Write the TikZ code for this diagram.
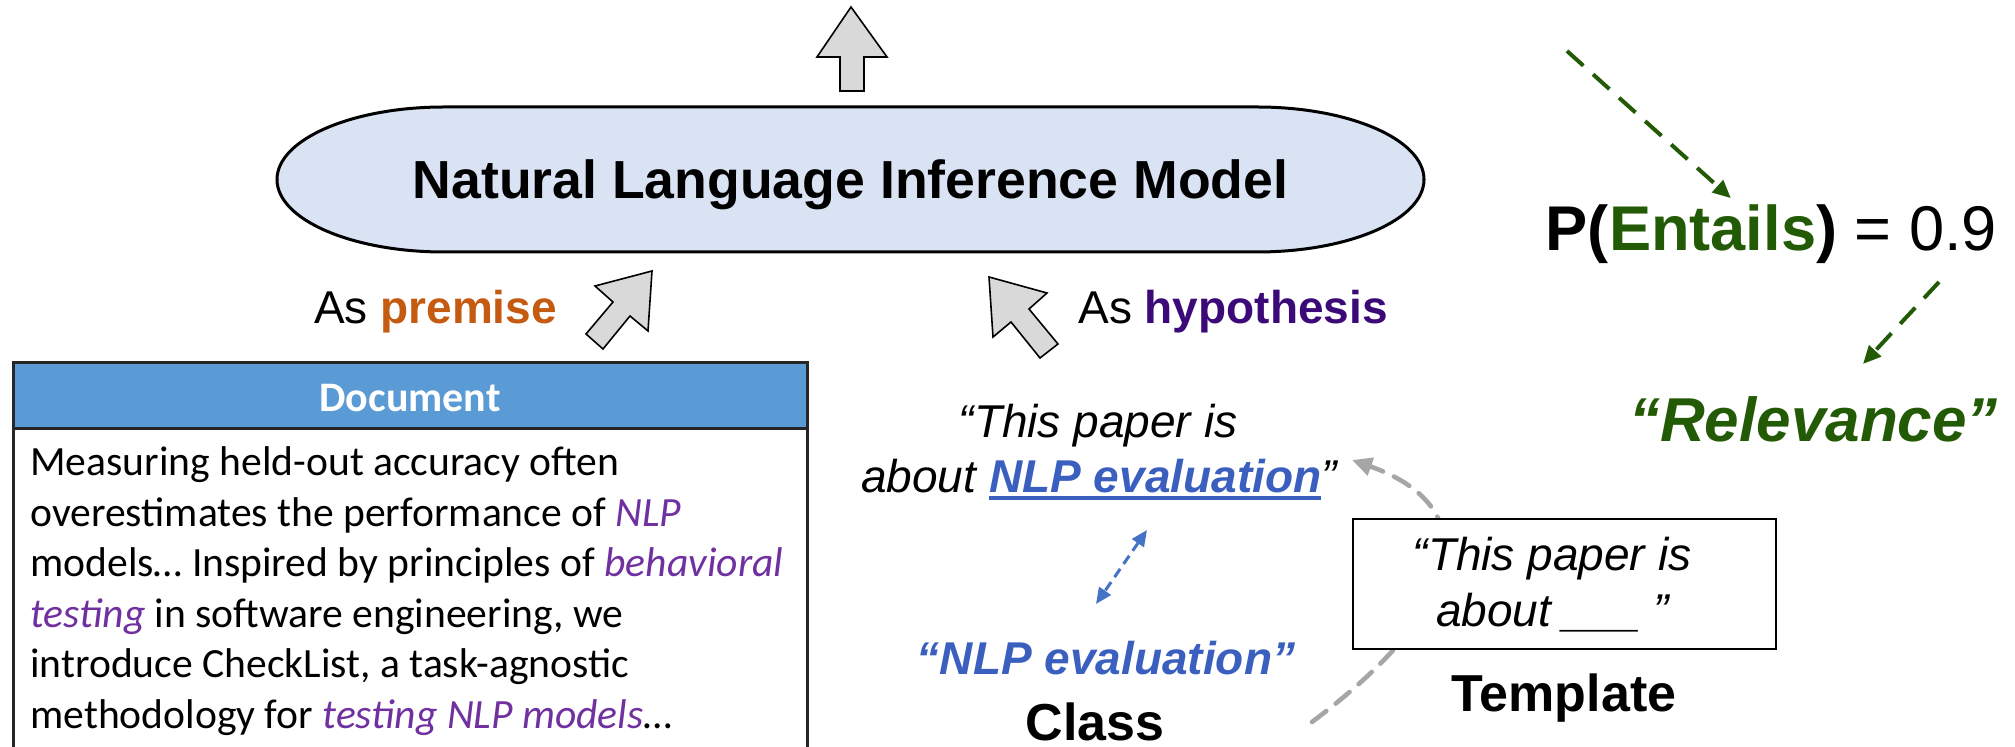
\documentclass[tikz,border=0pt]{standalone}
\usepackage{fontspec}
\setmainfont{Liberation Sans}
\newfontfamily\calibri{Carlito}
\usetikzlibrary{positioning,arrows.meta}
\usepackage{xcolor}

\definecolor{modelfill}{HTML}{DAE3F3}
\definecolor{arrowfill}{HTML}{D9D9D9}
\definecolor{docblue}{HTML}{5B9BD5}
\definecolor{docframe}{HTML}{262626}
\definecolor{docpurple}{HTML}{7030A0}
\definecolor{premorange}{HTML}{C55A11}
\definecolor{hypviolet}{HTML}{3B0A78}
\definecolor{nlpblue}{HTML}{3A5FBF}
\definecolor{dblue}{HTML}{4472C4}
\definecolor{entgreen}{HTML}{235A05}
\definecolor{curvegray}{HTML}{A6A6A6}

\newcommand{\doccue}[1]{\textcolor{docpurple}{\itshape #1}}
\newcommand{\blueline}[1]{\setbox0\hbox{#1}\rlap{\rule[-3.4pt]{\wd0}{1.7pt}}\box0}

\begin{document}
\begin{tikzpicture}[x=0.5pt,y=-0.5pt,
            fatarrow/.style={draw=black, line width=0.8pt, fill=arrowfill},
            model/.style={draw=black, line width=1.5pt, fill=modelfill},
            label/.style={font=\fontsize{23}{27.5}\selectfont, anchor=base, inner sep=0pt},
            quote/.style={font=\fontsize{23}{27.5}\selectfont\itshape, anchor=base, inner sep=0pt},
            caption/.style={font=\fontsize{26}{30}\selectfont\bfseries, anchor=base, inner sep=0pt},
            doctext/.style={font=\calibri\fontsize{20.8}{25.25}\selectfont, align=left, anchor=base west, inner sep=0pt},
            greenarrow/.style={-{Triangle[length=9pt,width=8pt]}, entgreen, line width=2pt, dash pattern=on 11pt off 6.5pt},
            bluearrow/.style={{Triangle[length=8pt,width=7pt]}-{Triangle[length=8pt,width=7pt]}, dblue, line width=1.5pt, dash pattern=on 5pt off 3pt},
            grayarrow/.style={-{Triangle[length=10pt,width=9pt]}, curvegray, line width=2.3pt, dash pattern=on 9pt off 6pt, line cap=round}
        ]
        \useasboundingbox (0,0) rectangle (2015,747);
        \clip (0,0) rectangle (2015,747);

        % NLI model
        \draw[model] (444,107) -- (1257,107) arc[start angle=-90, end angle=90, x radius=167, y radius=72.5]
            -- (444,252) arc[start angle=90, end angle=270, x radius=167, y radius=72.5] -- cycle;
        \node[font=\fontsize{26.8}{32}\selectfont\bfseries, anchor=base] (nli) at (850.5,199) {Natural Language Inference Model};

        % Block arrows
        \draw[fatarrow] (851,7) -- (887,57) -- (864,57) -- (864,91) -- (840,91) -- (840,57) -- (817,57) -- cycle;
        \draw[fatarrow] (652,271) -- (648,331) -- (630,316) -- (603,349) -- (586,334) -- (613,302) -- (595,286) -- cycle;
        \draw[fatarrow] (989,277) -- (1047,293) -- (1029,309) -- (1058,344) -- (1040,358) -- (1011,322) -- (993,337) -- cycle;

        \node[label] (premise) at (435.5,324) {As \textbf{\color{premorange}premise}};
        \node[label] (hypothesis) at (1233,324) {As \textbf{\color{hypviolet}hypothesis}};

        % Document
        \draw[docframe, line width=1.5pt, fill=white] (13,363) rectangle (807,760);
        \filldraw[fill=docblue, draw=docframe, line width=1.5pt] (13,363) rectangle (807,429);
        \node[font=\calibri\fontsize{21}{25}\selectfont\bfseries, text=white, anchor=base] (dochead) at (410,412) {Document};
        \node[doctext] (doctext) at (30,728.5) {Measuring held-out accuracy often\\
            overestimates the performance of \doccue{NLP}\\
            models… Inspired by principles of \doccue{behavioral}\\
            \doccue{testing} in software engineering, we\\
            introduce CheckList, a task-agnostic\\
            methodology for \doccue{testing NLP models}…};

        % Output
        \node[font=\fontsize{31.6}{36}\selectfont, anchor=base] (pe) at (1771.5,251)
            {\textbf{P(}\textbf{\color{entgreen}Entails}\textbf{)} = 0.9};
        \node[font=\fontsize{31}{36}\selectfont\bfseries\itshape, text=entgreen, anchor=base] (rel) at (1813.5,442) {“Relevance”};
        \coordinate (entsrc) at (1567,51);
        \coordinate (pedown) at (1939,282);
        \coordinate (relup) at (1863,364);
        \draw[greenarrow] (entsrc) -- (pe);
        \draw[greenarrow] (pedown) -- (relup);

        % Hypothesis
        \node[quote] (hyp1) at (1098,438) {“This paper is};
        \node[quote] (hyp2) at (1099,493) {about \textcolor{nlpblue}{\bfseries\blueline{NLP evaluation}}”};
        \node[quote, font=\fontsize{23}{27.5}\selectfont\bfseries\itshape, text=nlpblue] (cls) at (1106,675) {“NLP evaluation”};
        \node[caption] (clslabel) at (1095,741) {Class};
        \coordinate (hypdown) at (1147,530);
        \coordinate (clsup) at (1096,604);
        \draw[bluearrow] (hypdown) -- (clsup);

        % Template
        \coordinate (curvestart) at (1312,722);
        \coordinate (hypend) at (1352,460);
        \draw[grayarrow] (curvestart) .. controls (1475,600) and (1480,505) .. (hypend);
        \node[draw, line width=1.2pt, fill=white, minimum width=211.5pt, minimum height=65pt] (tmpl) at (1564.5,584) {};
        \node[quote] (tmpl1) at (1552,571) {“This paper is};
        \node[quote] (tmpl2) at (1552.5,627) {about \_\_\_ ”};
        \node[caption] (tmpllabel) at (1564,712) {Template};

        \end{tikzpicture}
\end{document}
